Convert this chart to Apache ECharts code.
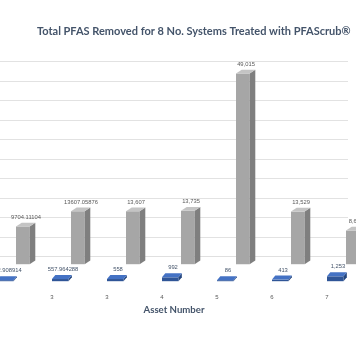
<!DOCTYPE html>
<html><head><meta charset="utf-8">
<script src="https://cdn.jsdelivr.net/npm/echarts@6/dist/echarts.min.js"></script>
<style>html,body{margin:0;padding:0;background:#fff}#c{width:356px;height:364px}</style>
</head><body><div id="c"></div>
<script>
const categories = ['2', '3', '3', '4', '5', '6', '7'];
const blueValues = [32.908914, 557.964288, 558, 992, 86, 413, 1253];
const grayValues = [9704.11104, 13607.05876, 13607, 13735, 49015, 13529, 8650];
const yMax = 50000;
const yInterval = 5000;

function fmt(v) {
  return Number.isInteger(v) ? v.toLocaleString('en-US') : String(v);
}

function makeRender(kind) {
  return function (params, api) {
    const i = api.value(0), v = api.value(1);
    const p0 = api.coord([i, 0]);
    const p1 = api.coord([i, v]);
    const cx = p0[0];
    let x0, w, dx, dy, yOff, cf, cs, ct, lx, lc;
    if (kind === 'gray') {
      x0 = cx + 19; w = 13.6; dx = 5.7; dy = -3.8; yOff = 8;
      cf = '#a6a6a6'; cs = '#7f7f7f'; ct = '#c4c4c4'; lc = '#595959';
      lx = cx + 29;
    } else {
      x0 = cx; w = 16.5; dx = 3.3; dy = -4; yOff = 25;
      cf = '#2f5597'; cs = '#24467f'; ct = '#4472c4'; lc = '#44546a';
      lx = cx + 11;
    }
    const yb = p0[1] + yOff;
    let yt = p1[1] + yOff;
    if (yb - yt < 1) yt = yb - 1;
    const children = [
      { type: 'rect', shape: { x: x0, y: yt, width: w, height: yb - yt }, style: { fill: cf } },
      { type: 'polygon', shape: { points: [[x0 + w, yt], [x0 + w + dx, yt + dy], [x0 + w + dx, yb + dy], [x0 + w, yb]] }, style: { fill: cs } },
      { type: 'polygon', shape: { points: [[x0, yt], [x0 + dx, yt + dy], [x0 + w + dx, yt + dy], [x0 + w, yt]] }, style: { fill: ct } },
      { type: 'text', style: { text: fmt(v), x: lx, y: yt + dy - 5.5, align: 'center', verticalAlign: 'middle', fontSize: 5.8, fill: lc, fontFamily: 'Liberation Sans' } }
    ];
    return { type: 'group', children };
  };
}

const chart = echarts.init(document.getElementById('c'), null, { renderer: 'canvas' });
chart.setOption({
  animation: false,
  title: {
    text: 'Total PFAS Removed for 8 No. Systems Treated with PFAScrub®',
    left: 32, top: 21,
    textStyle: { fontSize: 11, fontWeight: 'bold', color: '#44546a', fontFamily: 'Lato' }
  },
  grid: [
    { left: 0, width: 348, top: 61.7, height: 194.5, outerBoundsMode: 'none' },
    { left: -30.5, width: 385, top: 61.7, height: 194.5, outerBoundsMode: 'none' }
  ],
  xAxis: [
    { gridIndex: 0, type: 'value', show: false, min: 0, max: 1 },
    {
      gridIndex: 1, type: 'category', data: categories, offset: 29,
      axisLine: { show: true, lineStyle: { color: '#e0e0e0' } },
      axisTick: { show: false },
      axisLabel: { fontSize: 6, color: '#595959', margin: 9, fontFamily: 'Liberation Sans' },
      name: 'Asset Number', nameLocation: 'middle', nameGap: 13,
      nameTextStyle: { fontSize: 9.6, fontWeight: 'bold', color: '#44546a', fontFamily: 'Lato', padding: [0, 0, 0, 24] }
    }
  ],
  yAxis: [
    { gridIndex: 0, type: 'value', min: 0, max: yMax, interval: yInterval,
      axisLabel: { show: false }, axisLine: { show: false }, axisTick: { show: false },
      splitLine: { show: true, lineStyle: { color: '#e2e2e2', width: 1 } } },
    { gridIndex: 1, type: 'value', min: 0, max: yMax, show: false, splitLine: { show: false } }
  ],
  series: [
    { type: 'custom', xAxisIndex: 1, yAxisIndex: 1, clip: false, renderItem: makeRender('gray'),
      data: grayValues.map((v, i) => [i, v]), z: 2 },
    { type: 'custom', xAxisIndex: 1, yAxisIndex: 1, clip: false, renderItem: makeRender('blue'),
      data: blueValues.map((v, i) => [i, v]), z: 3 }
  ]
});
</script></body></html>
